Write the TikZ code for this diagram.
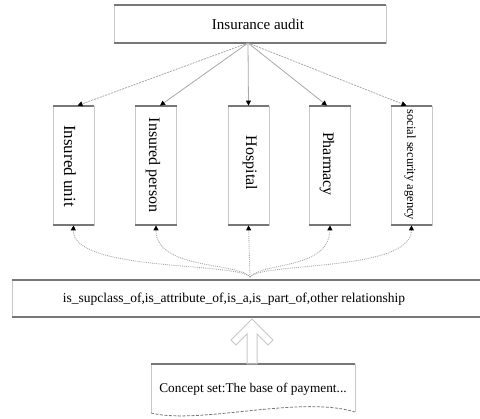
\documentclass[tikz,border=0pt]{standalone}
\usepackage{fontspec}
\setmainfont{Liberation Serif}
\usetikzlibrary{arrows.meta,calc}
\definecolor{rimgray}{HTML}{777777}
\definecolor{sidegray}{HTML}{C8C8C8}
\definecolor{linkgray}{HTML}{A8A8A8}
\tikzset{
  box/.style={rectangle, draw=sidegray, line width=0.8pt, inner sep=0pt},
  rim/.style={draw=rimgray, line width=2pt},
  colbox/.style={box, minimum width=41pt, minimum height=119pt},
  coltext/.style={font=\fontsize{16}{16}\selectfont, rotate=-90},
  tip/.style={-{Triangle[width=5pt,length=5pt,color=black]}},
  solidlink/.style={draw=linkgray, line width=0.8pt},
  dashlink/.style={draw=linkgray, line width=0.8pt, dash pattern=on 2pt off 1pt},
  dotlink/.style={draw=linkgray, line width=0.9pt, densely dotted}
}
\begin{document}
\begin{tikzpicture}[x=1pt,y=-1pt]
\useasboundingbox (0,0) rectangle (480,419);
% top box
\node [box, minimum width=272pt, minimum height=38pt] (audit) at (250,24) {};
\node [font=\fontsize{15}{15}\selectfont] (audittext) at (258,24) {Insurance audit};
\draw [rim] (audit.north west) -- (audit.north east);
\draw [rim] (audit.south west) -- (audit.south east);
% the five columns
\node [colbox] (unit) at (73.5,165.5) {};
\node [colbox] (person) at (156,165.5) {};
\node [colbox] (hospital) at (248.5,165.5) {};
\node [colbox] (pharmacy) at (330,165.5) {};
\node [colbox] (agency) at (411.5,165.5) {};
\node [coltext, font=\fontsize{17}{17}\selectfont] (unittext) at (70,166) {Insured unit};
\node [coltext] (persontext) at (153,165) {Insured person};
\node [coltext] (hospitaltext) at (250,163) {Hospital};
\node [coltext] (pharmacytext) at (327,164) {Pharmacy};
\node [font=\fontsize{12.5}{12.5}\selectfont, rotate=-90] (agencytext) at (410,165) {social security agency};
\foreach \n in {unit,person,hospital,pharmacy,agency} {
  \draw [rim] (\n.north west) -- (\n.north east);
  \draw [rim] (\n.south west) -- (\n.south east);
}
% links from the audit box
\coordinate (hub) at (248,43);
\draw [dashlink, tip] (hub) -- ($(unit.north)+(4,0)$);
\draw [solidlink, tip] (hub) -- ($(person.north)+(4,0)$);
\draw [solidlink, tip] (hub) -- (hospital.north);
\draw [solidlink, tip] (hub) -- ($(pharmacy.north)+(-3,0)$);
\draw [dashlink, tip] (hub) -- ($(agency.north)+(-5,0)$);
% relationship box
\node [box, minimum width=470pt, minimum height=37pt] (relation) at (247,298.5) {};
\node [font=\fontsize{13.5}{13.5}\selectfont] (relationtext) at (234,299) {is\_supclass\_of,is\_attribute\_of,is\_a,is\_part\_of,other relationship};
\draw [rim] (relation.north west) -- (relation.north east);
\draw [rim] (relation.south west) -- (relation.south east);
% dotted links from the relationship box
\coordinate (root) at (250,277);
\draw [dotlink, tip] (root) .. controls (238,262) and (72,272) .. (unit.south);
\draw [dotlink, tip] (root) .. controls (238,262) and (156,270) .. (person.south);
\draw [dotlink, tip] (root) -- (hospital.south);
\draw [dotlink, tip] (root) .. controls (262,262) and (329,270) .. (pharmacy.south);
\draw [dotlink, tip] (root) .. controls (262,262) and (411,272) .. (agency.south);
% concept set document
\coordinate (docnw) at (151,364);
\coordinate (docne) at (355,364);
\coordinate (docse) at (355,412);
\coordinate (docsw) at (151,413);
\draw [draw=sidegray, line width=0.8pt] (docnw) -- (docsw);
\draw [draw=sidegray, line width=0.8pt] (docne) -- (docse);
\draw [rim] (docnw) -- (docne);
\draw [draw=rimgray, line width=0.8pt, dash pattern=on 3pt off 1.5pt] (docsw) .. controls (200,425) and (300,395) .. (docse);
\node [font=\fontsize{13.3}{13.3}\selectfont] (concept) at (253,389) {Concept set:The base of payment...};
% hollow arrow up to the relationship box
\draw [draw=sidegray, line width=1pt] (252,319) -- (231,340) -- (236,345) -- (247,334) -- (247,364)
  -- (257,364) -- (257,334) -- (268,345) -- (273,340) -- cycle;
\end{tikzpicture}
\end{document}
